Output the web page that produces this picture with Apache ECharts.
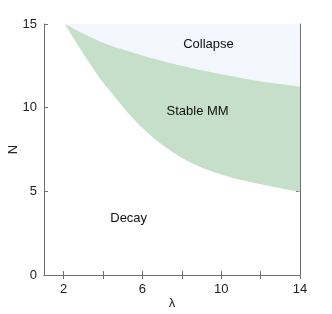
<!DOCTYPE html>
<html>
<head>
<meta charset="utf-8">
<script src="https://cdn.jsdelivr.net/npm/echarts@6/dist/echarts.min.js"></script>
<style>html,body{margin:0;padding:0;background:#fff}#c{width:332px;height:314px}</style>
</head>
<body>
<div id="c"></div>
<script>
var lambdaValues = [2.06, 2.5, 3, 3.5, 4, 4.5, 5, 5.5, 6, 6.5, 7, 7.5, 8, 8.5, 9, 9.5, 10, 10.5, 11, 11.5, 12, 12.5, 13, 13.5, 14];
var upperN = [15, 14.72, 14.42, 14.14, 13.88, 13.66, 13.48, 13.3, 13.12, 12.95, 12.79, 12.64, 12.5, 12.36, 12.23, 12.11, 12.0, 11.89, 11.78, 11.67, 11.57, 11.49, 11.41, 11.33, 11.26];
var lowerN = [15, 14.15, 13.22, 12.33, 11.5, 10.78, 10.05, 9.38, 8.78, 8.25, 7.78, 7.37, 7.01, 6.7, 6.43, 6.2, 6.0, 5.83, 5.68, 5.55, 5.43, 5.31, 5.19, 5.08, 4.98];
var xTickValues = [2, 4, 6, 8, 10, 12, 14];
var xLabelValues = [2, 6, 10, 14];
var yTickValues = [0, 5, 10, 15];
var regionLabels = [
  {text: 'Collapse', x: 9.35, y: 13.75},
  {text: 'Stable MM', x: 8.8, y: 9.8},
  {text: 'Decay', x: 5.3, y: 3.4}
];

function pairs(xs, ys) { return xs.map(function (v, i) { return [v, ys[i]]; }); }

var chart = echarts.init(document.getElementById('c'), null, {renderer: 'canvas'});
var axisColor = '#707070';
var font = 'Liberation Sans, Arial, Helvetica, sans-serif';
function xAx(pos, show) {
  return {
    type: 'value', position: pos, min: 1, max: 14,
    name: show ? 'λ' : '', nameLocation: 'middle', nameGap: 22, nameMoveOverlap: false,
    nameTextStyle: {fontFamily: font, fontSize: 13, color: '#222'},
    axisLine: {show: true, lineStyle: {color: axisColor, width: 1}},
    axisTick: {show: true, inside: true, length: 4, customValues: xTickValues, lineStyle: {color: axisColor}},
    axisLabel: {show: show, customValues: xLabelValues, margin: 8, fontFamily: font, fontSize: 13, color: '#222'},
    splitLine: {show: false}
  };
}
function yAx(pos, show) {
  return {
    type: 'value', position: pos, min: 0, max: 15, interval: 5,
    name: show ? 'N' : '', nameLocation: 'middle', nameGap: 24, nameMoveOverlap: false,
    nameTextStyle: {fontFamily: font, fontSize: 13, color: '#222'},
    axisLine: {show: true, lineStyle: {color: axisColor, width: 1}},
    axisTick: {show: true, inside: true, length: 4, customValues: yTickValues, lineStyle: {color: axisColor}},
    axisLabel: {show: show, margin: 7, fontFamily: font, fontSize: 13, color: '#222'},
    splitLine: {show: false}
  };
}

chart.setOption({
  animation: false,
  backgroundColor: '#fff',
  grid: {left: 44, top: 24, right: 32, bottom: 39, containLabel: false, outerBoundsMode: 'none'},
  xAxis: [xAx('bottom', true), xAx('top', false)],
  yAxis: [yAx('left', true), yAx('right', false)],
  series: [
    {
      type: 'line', xAxisIndex: 0, yAxisIndex: 0,
      data: pairs(lambdaValues, lowerN), smooth: 0.3, showSymbol: false, symbol: 'none',
      lineStyle: {width: 0}, areaStyle: {color: '#c6dfc9', opacity: 1, origin: 'end'}, z: 1
    },
    {
      type: 'line', xAxisIndex: 0, yAxisIndex: 0,
      data: pairs(lambdaValues, upperN), smooth: 0.3, showSymbol: false, symbol: 'none',
      lineStyle: {width: 0}, areaStyle: {color: '#f3f6fc', opacity: 1, origin: 'end'}, z: 2
    }
  ]
});

chart.setOption({
  graphic: regionLabels.map(function (l) {
    var p = chart.convertToPixel({xAxisIndex: 0, yAxisIndex: 0}, [l.x, l.y]);
    return {type: 'text', x: p[0], y: p[1], z: 100,
      style: {text: l.text, fill: '#111', font: '13px ' + font, textAlign: 'center', textVerticalAlign: 'middle'}};
  })
});
</script>
</body>
</html>
